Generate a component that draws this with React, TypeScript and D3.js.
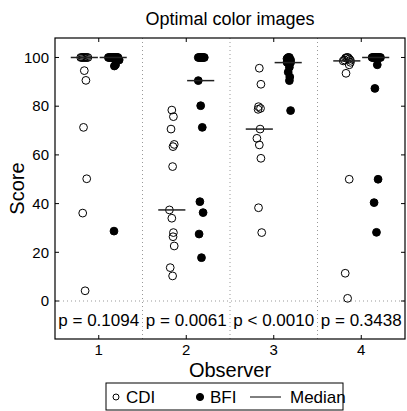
import React from "react";
import * as d3 from "d3";

const observers = [1, 2, 3, 4];
const pLabels = ["p = 0.1094", "p = 0.0061", "p < 0.0010", "p = 0.3438"];
const yTicks = [0, 20, 40, 60, 80, 100];

const cdi1 = [100, 100, 100, 100, 100, 100, 100, 94.6, 90.6, 71.3, 50.2, 36.1, 4.2];
const bfi1 = [100, 100, 100, 100, 100, 100, 100, 100, 100, 99, 97, 96.5, 28.7];
const cdi2 = [78.4, 75.7, 70.6, 64.3, 63.4, 55.2, 37.4, 34.0, 28.1, 26.4, 22.6, 13.7, 10.3];
const bfi2 = [100, 100, 100, 100, 100, 100, 90.5, 80.2, 71.3, 40.8, 36.3, 27.5, 17.8];
const cdi3 = [95.6, 89.0, 79.8, 79.1, 78.7, 70.6, 66.8, 64.1, 58.6, 38.3, 28.1];
const bfi3 = [100, 100, 99.5, 99, 98, 97.9, 96, 94, 92, 90.5, 78.2];
const cdi4 = [100, 100, 99.8, 99.4, 99, 98.8, 98.6, 98, 97, 93.5, 50, 11.4, 1.1];
const bfi4 = [100, 100, 100, 100, 100, 100, 100, 100, 97, 87.3, 50, 40.4, 28.2];

const cdiSeries = [cdi1, cdi2, cdi3, cdi4];
const bfiSeries = [bfi1, bfi2, bfi3, bfi4];

const W = 407;
const H = 411;
const left = 55;
const right = 405;
const top = 38;
const bottom = 339;

const FONT = "'Liberation Sans', Arial, Helvetica, sans-serif";

export default function App() {
  const x = d3.scaleLinear().domain([0.5, 4.5]).range([left, right]);
  const y = d3.scaleLinear().domain([-15.6, 108]).range([bottom, top]);
  const off = 0.165;
  const half = 0.155;
  const r = 3.9;
  const spread = [0, 1.2, -1.2, 2.4, -2.4, 3.6, -3.6, 4.8, -4.8, 6, -6];
  const wig = [0, 2, -1, 3, -2, 1, -3];

  const placed = (vals: number[], cx: number) => {
    const out: { px: number; py: number }[] = [];
    vals.forEach((v, i) => {
      const py = y(v);
      const near = out.filter((o) => Math.abs(o.py - py) < r * 1.2).length;
      const dx = near > 0 ? spread[near % spread.length] : wig[i % wig.length] * 0.8;
      out.push({ px: x(cx) + dx, py });
    });
    return out;
  };

  return (
    <svg
      width={W}
      height={H}
      style={{ position: "absolute", left: 0, top: 0, background: "#fff" }}
      fontFamily={FONT}
    >
      <rect x={0} y={0} width={W} height={H} fill="#fff" />
      <text x={(left + right) / 2} y={25} fontSize={18} textAnchor="middle">
        Optimal color images
      </text>
      {[1.5, 2.5, 3.5].map((g) => (
        <line
          key={g}
          x1={x(g)}
          x2={x(g)}
          y1={top}
          y2={bottom}
          stroke="#999"
          strokeWidth={1}
          strokeDasharray="1,3"
        />
      ))}
      <line
        x1={left}
        x2={right}
        y1={y(0)}
        y2={y(0)}
        stroke="#999"
        strokeWidth={1}
        strokeDasharray="1,3"
      />
      {yTicks.map((t) => (
        <g key={t}>
          <line x1={left} x2={left + 4} y1={y(t)} y2={y(t)} stroke="#000" />
          <line x1={right} x2={right - 4} y1={y(t)} y2={y(t)} stroke="#000" />
          <text x={left - 6} y={y(t)} dy="0.35em" fontSize={15} textAnchor="end">
            {t}
          </text>
        </g>
      ))}
      {observers.map((o) => (
        <g key={o}>
          <line x1={x(o)} x2={x(o)} y1={bottom} y2={bottom - 4} stroke="#000" />
          <line x1={x(o)} x2={x(o)} y1={top} y2={top + 4} stroke="#000" />
          <text x={x(o)} y={bottom + 16} fontSize={15} textAnchor="middle">
            {o}
          </text>
        </g>
      ))}
      {observers.map((o, i) => (
        <text key={o} x={x(o)} y={y(-8)} dy="0.35em" fontSize={17} textAnchor="middle">
          {pLabels[i]}
        </text>
      ))}
      {observers.map((o, i) => (
        <g key={o}>
          {placed(cdiSeries[i], o - off).map((p, j) => (
            <circle key={"c" + j} cx={p.px} cy={p.py} r={r} fill="none" stroke="#000" strokeWidth={1} />
          ))}
          {placed(bfiSeries[i], o + off).map((p, j) => (
            <circle key={"b" + j} cx={p.px} cy={p.py} r={r} fill="#000" stroke="#000" strokeWidth={1} />
          ))}
          <line
            x1={x(o - off - half)}
            x2={x(o - off + half)}
            y1={y(d3.median(cdiSeries[i]) as number)}
            y2={y(d3.median(cdiSeries[i]) as number)}
            stroke="#222"
            strokeWidth={1.5}
          />
          <line
            x1={x(o + off - half)}
            x2={x(o + off + half)}
            y1={y(d3.median(bfiSeries[i]) as number)}
            y2={y(d3.median(bfiSeries[i]) as number)}
            stroke="#222"
            strokeWidth={1.5}
          />
        </g>
      ))}
      <rect x={left} y={top} width={right - left} height={bottom - top} fill="none" stroke="#000" strokeWidth={1.2} />
      <text x={(left + right) / 2} y={377} fontSize={20} textAnchor="middle">
        Observer
      </text>
      <text
        transform={`translate(24, ${(top + bottom) / 2}) rotate(-90)`}
        fontSize={20}
        textAnchor="middle"
      >
        Score
      </text>
      <g>
        <rect x={106} y={383} width={237} height={27} fill="#fff" stroke="#000" strokeWidth={1} />
        <circle cx={116} cy={397} r={3} fill="none" stroke="#000" />
        <text x={126} y={397} dy="0.35em" fontSize={17}>
          CDI
        </text>
        <circle cx={200} cy={397} r={3.6} fill="#000" stroke="#000" />
        <text x={210} y={397} dy="0.35em" fontSize={17}>
          BFI
        </text>
        <line x1={250} x2={281} y1={397} y2={397} stroke="#000" strokeWidth={1} />
        <text x={290} y={397} dy="0.35em" fontSize={17}>
          Median
        </text>
      </g>
    </svg>
  );
}
